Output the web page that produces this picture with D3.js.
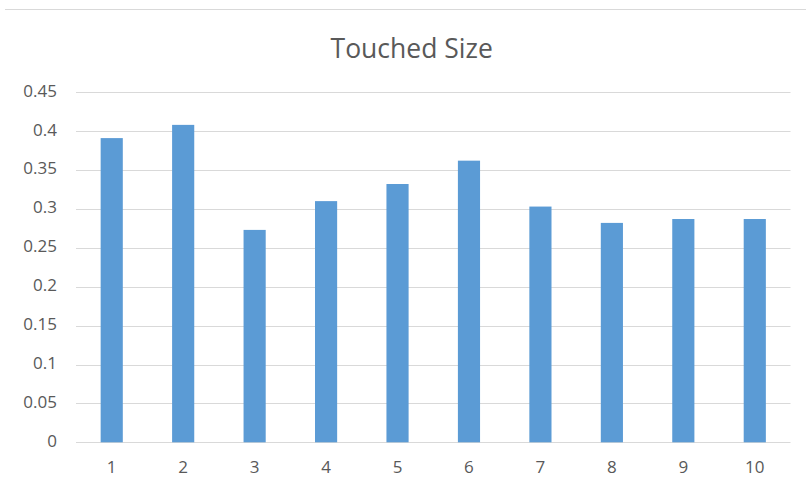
<!DOCTYPE html>
<html>
<head>
<meta charset="utf-8">
<script src="https://cdn.jsdelivr.net/npm/d3@7"></script>
<style>
  html, body { margin: 0; padding: 0; background: #fff; }
  svg { display: block; }
  text { font-family: "Open Sans", "Noto Sans", sans-serif; fill: #595959; }
</style>
</head>
<body>
<svg id="chart" width="806" height="486"></svg>
<script>
// Touched Size per group
const categories = ["1", "2", "3", "4", "5", "6", "7", "8", "9", "10"];
const touchedSize = [0.391, 0.408, 0.273, 0.310, 0.332, 0.362, 0.303, 0.282, 0.287, 0.287];
const yTicks = [0, 0.05, 0.1, 0.15, 0.2, 0.25, 0.3, 0.35, 0.4, 0.45];
const titleText = "Touched Size";

const FONT = "'Open Sans', 'Noto Sans', sans-serif";
const svg = d3.select("#chart");
const margin = { left: 76, right: 15.5, top: 92.2, bottom: 43.7 };
const W = 806, H = 486;

const x = d3.scaleBand()
  .domain(categories)
  .range([margin.left, W - margin.right])
  .paddingInner(0.69)
  .paddingOuter(0.345);

const y = d3.scaleLinear()
  .domain([0, 0.45])
  .range([H - margin.bottom, margin.top]);

// frame line along the top
svg.append("line")
  .attr("x1", 5).attr("x2", W).attr("y1", 9.5).attr("y2", 9.5)
  .attr("stroke", "#d9d9d9").attr("stroke-width", 1);

// horizontal gridlines
svg.append("g")
  .selectAll("line")
  .data(yTicks)
  .join("line")
  .attr("x1", margin.left).attr("x2", W - margin.right)
  .attr("y1", d => Math.round(y(d)) + 0.5).attr("y2", d => Math.round(y(d)) + 0.5)
  .attr("stroke", "#d9d9d9").attr("stroke-width", 1);

// y axis labels
const yAxis = d3.axisLeft(y).tickValues(yTicks).tickSize(0).tickPadding(0)
  .tickFormat(d => String(+d.toFixed(2)));
const gy = svg.append("g").attr("transform", `translate(${57},-1.5)`).call(yAxis);
gy.select(".domain").remove();
gy.selectAll("text").attr("font-size", 17).style("fill", "#595959")
  .attr("font-family", FONT);

// bars
svg.append("g")
  .selectAll("rect")
  .data(touchedSize)
  .join("rect")
  .attr("x", (d, i) => x(categories[i]))
  .attr("width", x.bandwidth())
  .attr("y", d => y(d))
  .attr("height", d => y(0) - y(d))
  .attr("fill", "#5b9bd5");

// x axis labels
const xAxis = d3.axisBottom(x).tickSize(0).tickPadding(0);
const gx = svg.append("g").attr("transform", `translate(0,${y(0) + 18.5})`).call(xAxis);
gx.select(".domain").remove();
gx.selectAll("text").attr("font-size", 17).style("fill", "#595959")
  .attr("font-family", FONT);

// title
svg.append("text")
  .attr("x", 411.7).attr("y", 58)
  .attr("text-anchor", "middle")
  .attr("font-size", 26.5)
  .text(titleText);
</script>
</body>
</html>
